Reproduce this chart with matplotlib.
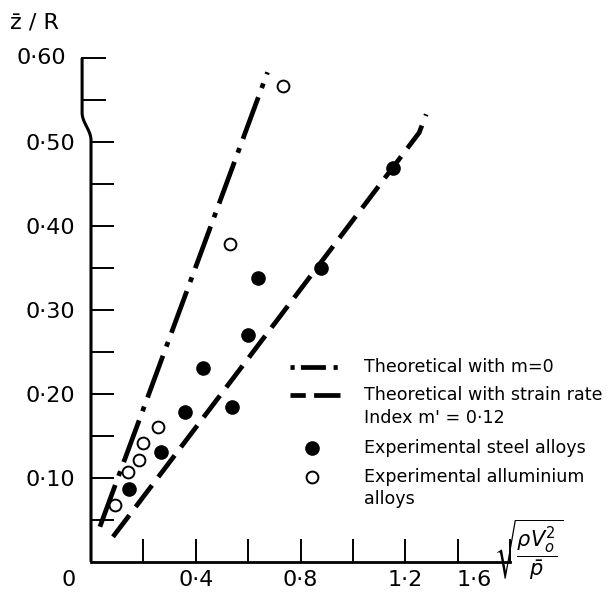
import numpy as np
import matplotlib
matplotlib.use("Agg")
import matplotlib.pyplot as plt
from matplotlib.lines import Line2D

plt.rcParams["font.family"] = ["DejaVu Sans"]
plt.rcParams["mathtext.fontset"] = "dejavusans"
plt.rcParams["lines.scale_dashes"] = False

# experimental points
steel_x = [0.145, 0.267, 0.358, 0.427, 0.537, 0.598, 0.636, 0.880, 1.154]
steel_y = [0.087, 0.131, 0.179, 0.231, 0.185, 0.270, 0.338, 0.350, 0.469]
alum_x = [0.091, 0.141, 0.183, 0.198, 0.255, 0.530, 0.735]
alum_y = [0.068, 0.107, 0.121, 0.142, 0.161, 0.379, 0.567]

# theoretical lines
m0_x = [0.034, 0.674]
m0_y = [0.042, 0.583]
m012_x = [0.084, 1.253, 1.28]
m012_y = [0.030, 0.511, 0.533]

# ticks
x_major = [0.4, 0.8, 1.2, 1.6]
x_minor = [0.2, 0.6, 1.0, 1.4]
x_labels = ["0", "0·4", "0·8", "1·2", "1·6"]
x_label_pos = [-0.084, 0.4, 0.8, 1.2, 1.463]
y_major = [0.1, 0.2, 0.3, 0.4, 0.5]
y_minor = [0.05, 0.15, 0.25, 0.35, 0.45]
y_labels = ["0·10", "0·20", "0·30", "0·40", "0·50"]
y_break_ticks = [0.55, 0.60]

W, H = 614, 593
fig = plt.figure(figsize=(W / 100, H / 100), dpi=100)
ax = fig.add_axes([91 / W, (H - 562) / H, 419 / W, 504 / H])
ax.set_xlim(0, 1.596)
ax.set_ylim(0, 0.6)

for s in ["top", "right", "left"]:
    ax.spines[s].set_visible(False)
ax.spines["bottom"].set_linewidth(2.0)

ax.set_xticks(x_major)
ax.set_xticks(x_minor, minor=True)
ax.set_xticklabels([])
ax.set_yticks(y_major)
ax.set_yticks(y_minor, minor=True)
ax.set_yticklabels(y_labels, fontsize=16)
ax.tick_params(axis="both", which="both", direction="in", length=16.5, width=1.4)
ax.tick_params(axis="y", which="major", pad=11.5)

for txt, xp in zip(x_labels, x_label_pos):
    ax.text(xp, -0.022, txt, ha="center", va="center", fontsize=16, clip_on=False)

# y axis with the little break near the top
off = -0.034
t = np.linspace(0, 1, 20)
jog_x = off * (1 - np.cos(np.pi * t)) / 2
jog_y = 0.502 + 0.033 * t
spine_x = np.concatenate([[0], jog_x, [off]])
spine_y = np.concatenate([[0], jog_y, [0.6]])
ax.plot(spine_x, spine_y, color="k", lw=2.2, clip_on=False, solid_capstyle="butt")
for yy in y_break_ticks:
    ax.plot([off, off + 0.0876], [yy, yy], color="k", lw=1.4, clip_on=False)
ax.text(off - 0.061, 0.6, "0·60", ha="right", va="center", fontsize=16, clip_on=False)

# lines
ax.plot(m0_x, m0_y, color="k", lw=3.4, dashes=[32, 7, 3.6, 7], clip_on=False)
ax.plot(m012_x, m012_y, color="k", lw=3.4, dashes=[19.5, 7.5], clip_on=False)

# points
ax.plot(steel_x, steel_y, "o", ls="none", ms=9.5, color="k", clip_on=False)
ax.plot(alum_x, alum_y, "o", ls="none", ms=8.5, mfc="white", mec="k", mew=1.4, clip_on=False)

# axis labels
fig.text(34 / W, 1 - 23 / H, "z\u0304 / R", ha="center", va="center", fontsize=16)
fig.text(494 / W, 1 - 550 / H, r"$\sqrt{\dfrac{\rho V_o^2}{\bar{p}}}$", ha="left", va="center", fontsize=15)

# legend drawn by hand
def fx(px):
    return px / W

def fy(py):
    return 1 - py / H

fig.add_artist(Line2D([fx(290), fx(340)], [fy(367), fy(367)], color="k", lw=3.4,
                      dashes=[3, 4.5, 18, 5.5], transform=fig.transFigure))
fig.add_artist(Line2D([fx(290), fx(340)], [fy(395), fy(395)], color="k", lw=3.4,
                      dashes=[11, 6, 20, 6], transform=fig.transFigure))
fig.add_artist(Line2D([fx(312)], [fy(448)], marker="o", ms=9.5, color="k", ls="none",
                      transform=fig.transFigure))
fig.add_artist(Line2D([fx(312)], [fy(477)], marker="o", ms=8.5, mfc="white", mec="k", mew=1.4,
                      ls="none", transform=fig.transFigure))

legend_rows = [
    ("Theoretical with m=0", 367),
    ("Theoretical with strain rate", 395),
    ("Index m' = 0·12", 418),
    ("Experimental steel alloys", 448),
    ("Experimental alluminium", 477),
    ("alloys", 499),
]
for txt, py in legend_rows:
    fig.text(fx(364), fy(py), txt, ha="left", va="center", fontsize=12.6)

fig.savefig("out.png", dpi=100)
